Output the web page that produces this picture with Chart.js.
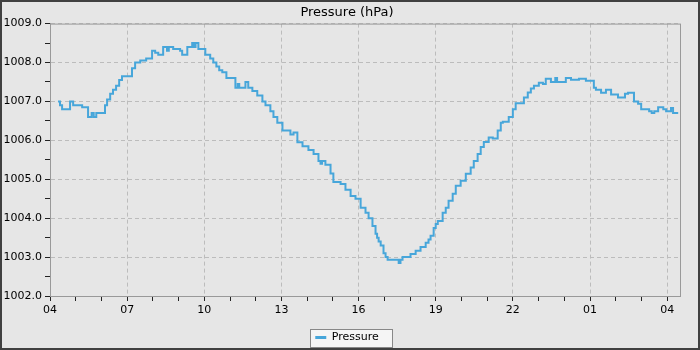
<!DOCTYPE html>
<html>
<head>
<meta charset="utf-8">
<script src="https://cdn.jsdelivr.net/npm/chart.js@4.4.1/dist/chart.umd.min.js"></script>
<style>
    body { margin: 0; background: #fff; }
    #frame {
        width: 700px;
        height: 350px;
        box-sizing: border-box;
        border: 2px solid #404040;
        background: #e6e6e6;
    }
    canvas { display: block; }
</style>
</head>
<body>
<div id="frame"><canvas id="pressure-chart" width="696" height="346"></canvas></div>
<script>
// hours since 04:00
const hours = [
    0.31, 0.39, 0.47, 0.78, 0.90, 1.25, 1.48, 1.62, 1.70, 1.80, 1.95, 2.14, 2.22, 2.34, 2.45,
    2.57, 2.69, 2.80, 3.19, 3.31, 3.51, 3.74, 3.97, 4.09, 4.21, 4.40, 4.55, 4.62, 4.79, 5.06,
    5.14, 5.34, 5.53, 5.60, 5.66, 5.77, 6.04, 6.23, 6.35, 6.47, 6.58, 6.70, 6.86, 7.21, 7.30,
    7.36, 7.60, 7.71, 7.87, 8.06, 8.26, 8.38, 8.57, 8.69, 8.84, 9.04, 9.35, 9.47, 9.62, 9.82,
    10.05, 10.25, 10.44, 10.52, 10.58, 10.71, 10.91, 11.02, 11.30, 11.49, 11.69, 11.88, 12.08, 12.27, 12.39,
    12.54, 12.66, 12.72, 12.78, 12.86, 12.97, 13.05, 13.13, 13.56, 13.63, 13.71, 14.02, 14.22, 14.41, 14.61,
    14.72, 14.80, 14.92, 15.00, 15.08, 15.27, 15.39, 15.50, 15.66, 15.78, 15.97, 16.17, 16.36, 16.48, 16.63,
    16.75, 16.87, 17.06, 17.22, 17.41, 17.53, 17.61, 17.84, 18.00, 18.11, 18.43, 18.58, 18.70, 18.82, 19.01,
    19.17, 19.28, 19.48, 19.65, 19.72, 20.06, 20.26, 20.57, 20.84, 21.15, 21.23, 21.43, 21.62, 21.82, 22.09,
    22.36, 22.48, 22.71, 22.87, 22.99, 23.30, 23.40, 23.50, 23.65, 23.85, 23.96, 24.15, 24.23, 24.43
];
const pressure = [
    1007.0, 1006.9, 1006.8, 1007.0, 1006.9, 1006.85, 1006.6, 1006.7, 1006.6, 1006.7, 1006.7, 1006.9, 1007.05, 1007.2, 1007.3,
    1007.4, 1007.55, 1007.65, 1007.85, 1008.0, 1008.05, 1008.1, 1008.3, 1008.25, 1008.2, 1008.4, 1008.3, 1008.4, 1008.35, 1008.3,
    1008.2, 1008.4, 1008.5, 1008.4, 1008.5, 1008.35, 1008.2, 1008.1, 1008.0, 1007.9, 1007.8, 1007.75, 1007.6, 1007.35, 1007.45,
    1007.35, 1007.5, 1007.35, 1007.27, 1007.15, 1007.0, 1006.9, 1006.75, 1006.6, 1006.45, 1006.25, 1006.15, 1006.2, 1005.95, 1005.85,
    1005.75, 1005.65, 1005.47, 1005.4, 1005.47, 1005.37, 1005.15, 1004.93, 1004.88, 1004.73, 1004.57, 1004.5, 1004.27, 1004.14, 1004.0,
    1003.8, 1003.6, 1003.5, 1003.4, 1003.3, 1003.1, 1003.0, 1002.93, 1002.85, 1002.93, 1003.0, 1003.08, 1003.16, 1003.26, 1003.37,
    1003.45, 1003.55, 1003.75, 1003.85, 1003.93, 1004.14, 1004.27, 1004.45, 1004.63, 1004.83, 1004.96, 1005.14, 1005.3, 1005.47, 1005.65,
    1005.83, 1005.96, 1006.07, 1006.05, 1006.25, 1006.45, 1006.48, 1006.6, 1006.8, 1006.95, 1007.1, 1007.23, 1007.33, 1007.4, 1007.48,
    1007.45, 1007.58, 1007.5, 1007.6, 1007.5, 1007.6, 1007.56, 1007.58, 1007.53, 1007.35, 1007.3, 1007.22, 1007.3, 1007.18, 1007.1,
    1007.2, 1007.22, 1007.0, 1006.94, 1006.8, 1006.75, 1006.7, 1006.75, 1006.85, 1006.8, 1006.75, 1006.83, 1006.7, 1006.7
];
const hourLabels = ['04', '05', '06', '07', '08', '09', '10', '11', '12', '13', '14', '15', '16',
    '17', '18', '19', '20', '21', '22', '23', '00', '01', '02', '03', '04'];

const FONT = "'DejaVu Sans', sans-serif";
const LINE_BLUE = '#47a6da';
const GRID = '#bcbcbc';

Chart.defaults.font.family = FONT;
Chart.defaults.color = '#000';

// frame round the plot area
const plotFrame = {
    id: 'plotFrame',
    afterDraw(chart) {
        const { ctx, chartArea: a } = chart;
        ctx.save();
        ctx.strokeStyle = '#999';
        ctx.lineWidth = 1;
        ctx.strokeRect(a.left + 0.5, a.top + 0.5, a.right - a.left, a.bottom - a.top);
        ctx.restore();
    }
};

// box behind legend item
const legendBox = {
    id: 'legendBox',
    beforeDraw(chart) {
        const hb = chart.legend && chart.legend.legendHitBoxes[0];
        if (!hb) return;
        const ctx = chart.ctx;
        const x = Math.round(hb.left - 5) + 0.5;
        const y = Math.round(hb.top - 3) + 0.5;
        const w = Math.round(hb.width + 19);
        ctx.save();
        ctx.fillStyle = '#f5f5f5';
        ctx.strokeStyle = '#888';
        ctx.lineWidth = 1;
        ctx.fillRect(x, y, w, 18);
        ctx.strokeRect(x, y, w, 18);
        ctx.restore();
    }
};

function majorOnly(step) {
    return ctx => (ctx.tick && Math.abs(ctx.tick.value % step) < 1e-6) ? GRID : 'transparent';
}

const ctx = document.getElementById('pressure-chart').getContext('2d');
new Chart(ctx, {
    type: 'line',
    data: {
        datasets: [{
            label: 'Pressure',
            data: hours.map((h, i) => ({ x: h, y: pressure[i] })),
            borderColor: LINE_BLUE,
            backgroundColor: LINE_BLUE,
            borderWidth: 2,
            pointRadius: 0,
            stepped: true,
            fill: false
        }]
    },
    options: {
        responsive: false,
        animation: false,
        devicePixelRatio: 1,
        layout: { padding: { left: 0, right: 6, top: 0, bottom: 0 } },
        scales: {
            x: {
                type: 'linear',
                min: 0,
                max: 24.5,
                afterFit: s => { s.height = 36; },
                ticks: {
                    stepSize: 1,
                    autoSkip: false,
                    maxRotation: 0,
                    includeBounds: false,
                    padding: 3,
                    font: { size: 11 },
                    callback: v => (v % 3 === 0 ? hourLabels[v] : '')
                },
                grid: {
                    color: majorOnly(3),
                    tickColor: '#222',
                    tickLength: 5
                },
                border: { color: '#999', dash: [4, 3] }
            },
            y: {
                min: 1002,
                max: 1009,
                afterFit: s => { s.width = 48; },
                ticks: {
                    stepSize: 0.5,
                    padding: 3,
                    font: { size: 11 },
                    callback: v => (Number.isInteger(v) ? v.toFixed(1) : '')
                },
                grid: {
                    color: majorOnly(1),
                    tickColor: '#222',
                    tickLength: 5
                },
                border: { color: '#999', dash: [4, 3] }
            },
            yPad: {
                position: 'right',
                afterFit: s => { s.width = 12; },
                ticks: { display: false },
                grid: { display: false },
                border: { display: false }
            }
        },
        plugins: {
            title: {
                display: true,
                text: 'Pressure (hPa)',
                color: '#000',
                font: { size: 13, weight: 'normal' },
                padding: { top: 3, bottom: 3 }
            },
            legend: {
                position: 'bottom',
                maxHeight: 16,
                labels: {
                    padding: 0,
                    boxWidth: 11,
                    boxHeight: 3,
                    font: { size: 11 },
                    generateLabels: chart => chart.data.datasets.map((ds, i) => ({
                        text: ds.label,
                        fillStyle: ds.borderColor,
                        strokeStyle: ds.borderColor,
                        lineWidth: 0,
                        fontColor: '#000',
                        datasetIndex: i
                    }))
                }
            },
            tooltip: { enabled: false }
        }
    },
    plugins: [legendBox, plotFrame]
});
</script>
</body>
</html>
